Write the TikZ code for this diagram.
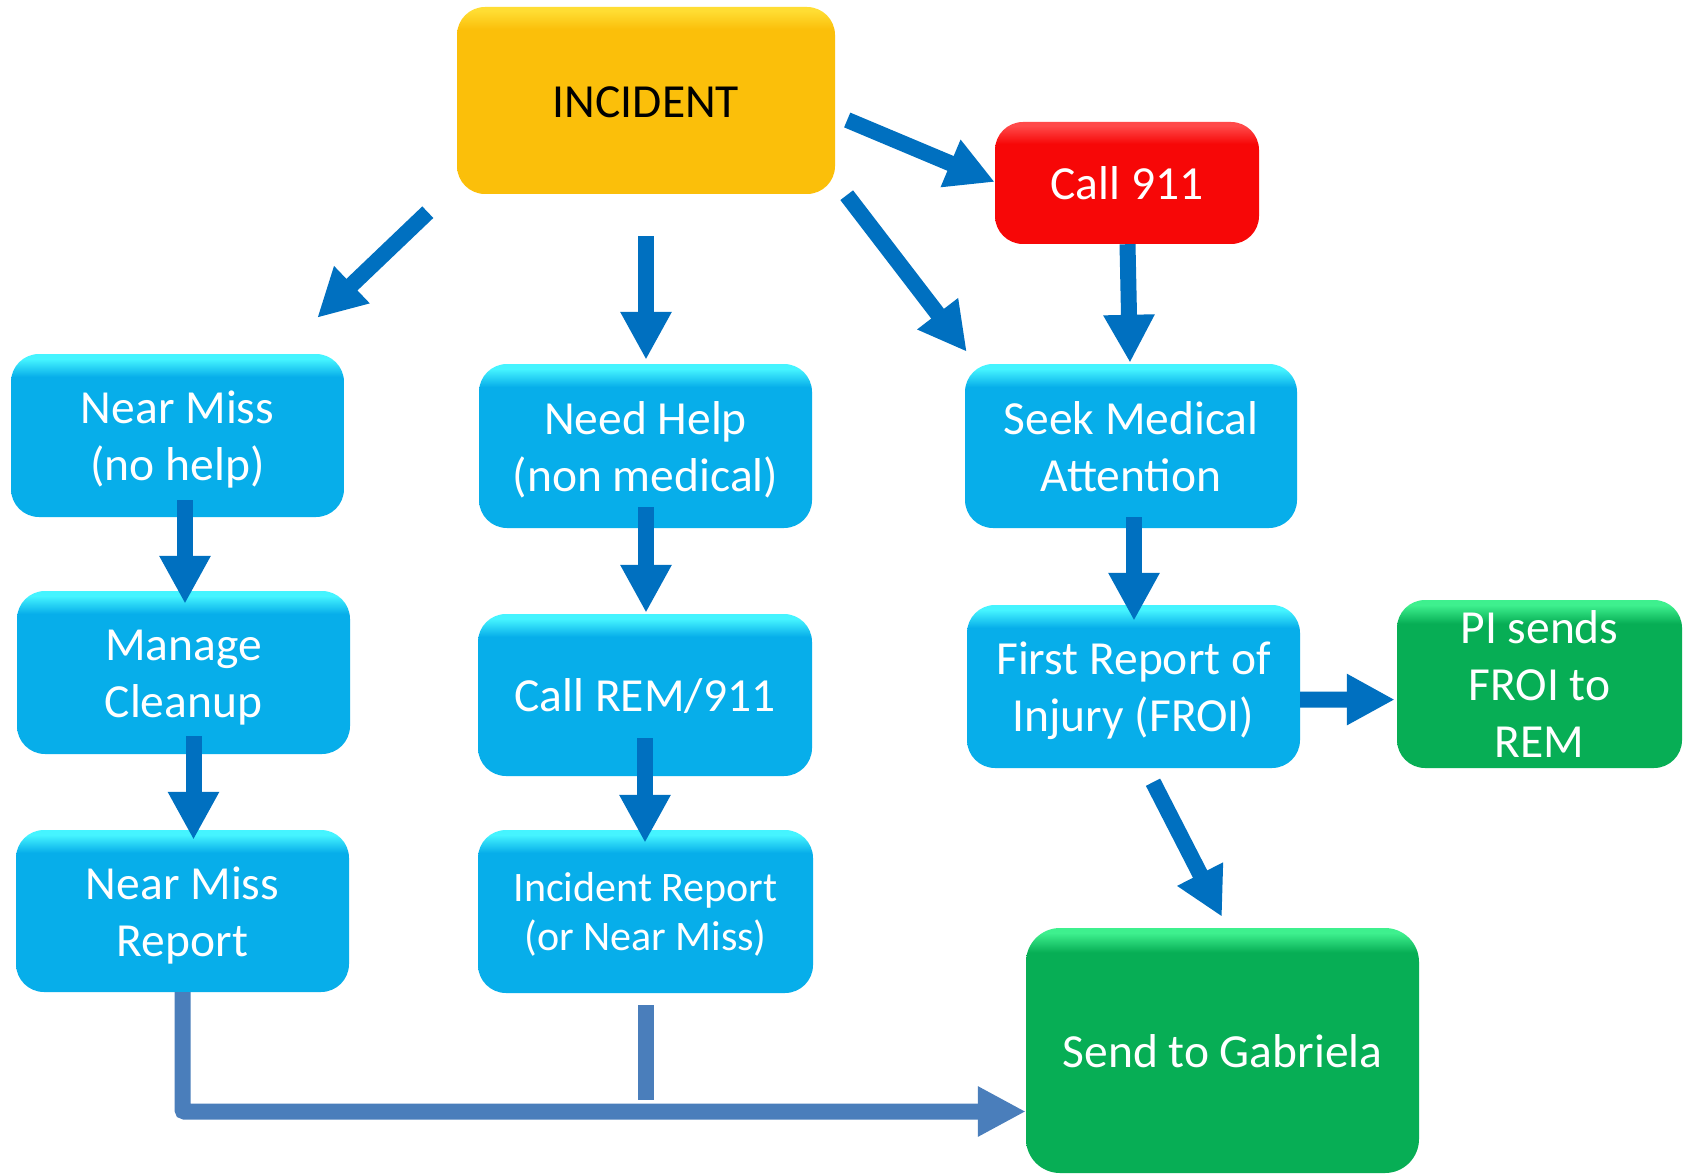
\documentclass[tikz,border=0pt]{standalone}
\usepackage{fontspec}
\setmainfont{Carlito}
\usetikzlibrary{arrows.meta,calc}
\definecolor{boxblue}{HTML}{07AEEA}
\definecolor{boxbluehi}{HTML}{45F4FF}
\definecolor{incyellow}{HTML}{FBBF0A}
\definecolor{incyellowhi}{HTML}{FFDD33}
\definecolor{callred}{HTML}{F70707}
\definecolor{callredhi}{HTML}{FF4A4A}
\definecolor{sendgreen}{HTML}{07AE55}
\definecolor{sendgreenhi}{HTML}{3EF08E}
\definecolor{arrblue}{HTML}{0070C0}
\definecolor{linkblue}{HTML}{4A7EBB}
\pgfdeclareverticalshading{bluegloss}{100bp}{color(0bp)=(boxblue); color(68bp)=(boxblue); color(73.5bp)=(boxbluehi); color(100bp)=(boxbluehi)}
\pgfdeclareverticalshading{yellowgloss}{100bp}{color(0bp)=(incyellow); color(69bp)=(incyellow); color(74bp)=(incyellowhi); color(100bp)=(incyellowhi)}
\pgfdeclareverticalshading{redgloss}{100bp}{color(0bp)=(callred); color(66bp)=(callred); color(73.5bp)=(callredhi); color(100bp)=(callredhi)}
\pgfdeclareverticalshading{greengloss}{100bp}{color(0bp)=(sendgreen); color(68bp)=(sendgreen); color(73.5bp)=(sendgreenhi); color(100bp)=(sendgreenhi)}
\pgfdeclareverticalshading{greenglossbig}{100bp}{color(0bp)=(sendgreen); color(70bp)=(sendgreen); color(74bp)=(sendgreenhi); color(100bp)=(sendgreenhi)}
% struts that centre the cap band of the text block in the box
\newcommand{\tstr}{\rule{0pt}{1.04em}}
\newcommand{\bstr}{\rule[-0.328em]{0pt}{0.328em}}
\newcommand{\tstrs}{\rule{0pt}{0.88em}}
\newcommand{\bstrs}{\rule[-0.2em]{0pt}{0.2em}}
\begin{document}
\begin{tikzpicture}[x=1pt,y=-1pt,
  card/.style={rounded corners=28pt, inner sep=0pt, align=center, text=white,
    font=\fontsize{47.5}{57}\selectfont},
  gloss/.style={shade, shading=#1},
  bluecard/.style={card, gloss=bluegloss, minimum width=333pt, minimum height=163pt},
  flow/.style={draw=arrblue, line width=16pt, -{Triangle[length=48pt,width=48pt]}},
  link/.style={draw=linkblue, line width=16pt}
]
\fill[white] (0,0) rectangle (1685,1174);
\useasboundingbox (0,0) rectangle (1685,1174);

\node[card, gloss=yellowgloss, text=black, minimum width=378pt, minimum height=187pt] (inc) at (646,100.5) {\tstr INCIDENT\bstr};
\node[card, gloss=redgloss, minimum width=264pt, minimum height=122pt] (c911) at (1127,183) {\tstr Call 911\bstr};
\node[bluecard] (nm) at (177.5,435.5) {\tstr Near Miss\\(no help)\bstr};
\node[bluecard] (mc) at (183.5,672.5) {\tstr Manage\\Cleanup\bstr};
\node[bluecard, minimum height=162pt] (nmr) at (182.5,911) {\tstr Near Miss\\Report\bstr};
\node[bluecard, minimum height=164pt] (nh) at (645.5,446) {\tstr Need Help\\(non medical)\bstr};
\node[bluecard, minimum width=334pt, minimum height=162pt] (crem) at (645,695) {\tstr Call REM/911\bstr};
\node[bluecard, minimum width=335pt, font=\fontsize{42}{49}\selectfont] (ir) at (645.5,911.5) {\tstr Incident Report\\(or Near Miss)\bstr};
\node[bluecard, minimum width=332pt, minimum height=164pt] (seek) at (1131,446) {\tstr Seek Medical\\Attention\bstr};
\node[bluecard] (froi) at (1133.5,686.5) {\tstr First Report of\\Injury (FROI)\bstr};
\node[card, gloss=greengloss, minimum width=285pt, minimum height=168pt] (pi) at (1539.5,684) {\tstrs PI sends\\FROI to\\REM\bstrs};
\node[card, gloss=greenglossbig, rounded corners=34pt, minimum width=393pt, minimum height=245pt] (gab) at (1222.5,1050.5) {\tstr Send to Gabriela\bstr};

\draw[flow] ($(inc.south west)+(-29,18)$) -- ($(nm.north east)+(-27,-36)$);
\draw[flow] ($(inc.south)+(0,42)$) -- ($(nh.north)+(0.5,-4)$);
\draw[flow] ($(inc.east)+(12,19.5)$) -- ($(c911.west)+(0,-1)$);
\draw[flow] ($(inc.south east)+(11.5,1)$) -- ($(seek.north west)+(2,-12)$);
\draw[flow] ($(c911.south)+(0.5,0)$) -- ($(seek.north)+(-1,-1)$);
\draw[flow] ($(nm.south)+(7.5,-17)$) -- ($(mc.north)+(1.5,13)$);
\draw[flow] ($(mc.south)+(10,-18)$) -- ($(nmr.north)+(11,10)$);
\draw[flow] ($(nh.south)+(0.5,-21)$) -- ($(crem.north)+(1,-1)$);
\draw[flow] ($(crem.south)+(0,-38)$) -- ($(ir.north)+(-0.5,13)$);
\draw[flow] ($(seek.south)+(3,-11)$) -- ($(froi.north)+(0.5,16)$);
\draw[flow] ($(froi.east)+(0,13)$) -- ($(pi.west)+(-2,15.6)$);
\draw[flow] ($(froi.south)+(19.5,14)$) -- ($(gab.north)+(-0.5,-11)$);

\draw[link, rounded corners=2pt, -{Triangle[length=48pt,width=47pt]}] (nmr.south) |- ($(gab.west)+(0,61)$);
\draw[link] ($(ir.south)+(0,12)$) -- ($(ir.south)+(0,107)$);
\end{tikzpicture}
\end{document}
